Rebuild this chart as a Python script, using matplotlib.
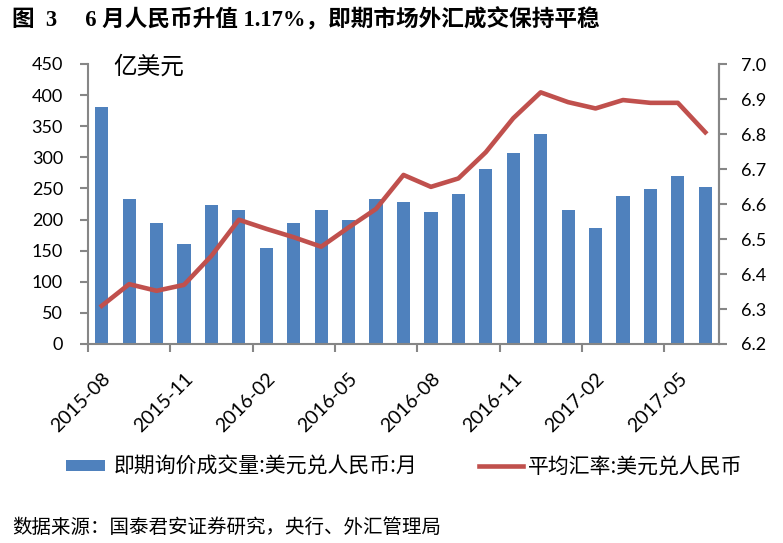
import numpy as np
import matplotlib
matplotlib.use("Agg")
import matplotlib.pyplot as plt
import matplotlib.transforms as mtransforms
from matplotlib.patches import Patch
from matplotlib.lines import Line2D

plt.rcParams['font.family'] = ['Lato', 'Noto Sans CJK SC', 'DejaVu Sans']

# Monthly data, 2015-08 .. 2017-06
months = ['2015-08', '2015-09', '2015-10', '2015-11', '2015-12', '2016-01',
          '2016-02', '2016-03', '2016-04', '2016-05', '2016-06', '2016-07',
          '2016-08', '2016-09', '2016-10', '2016-11', '2016-12', '2017-01',
          '2017-02', '2017-03', '2017-04', '2017-05', '2017-06']
volume = [381, 233, 195, 161, 224, 215, 154, 195, 215, 199, 233, 228,
          212, 241, 281, 307, 337, 215, 186, 238, 249, 270, 252]
avg_rate = [6.309, 6.371, 6.352, 6.369, 6.452, 6.555, 6.529, 6.505, 6.478,
            6.533, 6.586, 6.683, 6.649, 6.673, 6.748, 6.845, 6.919, 6.891,
            6.873, 6.897, 6.889, 6.889, 6.805]
tick_labels = ['2015-08', '2015-11', '2016-02', '2016-05', '2016-08',
               '2016-11', '2017-02', '2017-05']

bar_color = '#4F81BD'
line_color = '#C0504D'
axis_color = '#868686'

fig = plt.figure(figsize=(7.83, 5.43), dpi=100)
ax = fig.add_axes([88 / 783, 1 - 344 / 543, (719 - 88) / 783, (344 - 64) / 543])
ax2 = ax.twinx()

x = np.arange(len(months))
ax.bar(x, volume, width=0.48, color=bar_color, zorder=2)
ax2.plot(x, avg_rate, color=line_color, linewidth=3.3, solid_joinstyle='round', zorder=3)

ax.set_xlim(-0.5, len(months) - 0.5)
ax.set_ylim(0, 450)
ax.set_yticks(np.arange(0, 451, 50))
ax2.set_ylim(6.2, 7.0)
ax2.set_yticks(np.arange(6.2, 7.01, 0.1))
ax2.set_yticklabels([f'{v:.1f}' for v in np.arange(6.2, 7.01, 0.1)])

tick_pos = [months.index(m) - 0.5 for m in tick_labels]
ax.set_xticks(tick_pos)
ax.set_xticklabels([])

# rotated date labels, placed like the Excel original
offset = mtransforms.ScaledTranslation(20 / 100, -32 / 100, fig.dpi_scale_trans)
trans = mtransforms.blended_transform_factory(ax.transData, ax.transAxes) + offset
for p, lab in zip(tick_pos, tick_labels):
    ax.text(p, 0, lab, transform=trans, rotation=45, rotation_mode='anchor',
            ha='right', va='center', fontsize=14)

for a in (ax, ax2):
    a.spines['top'].set_visible(False)
    for s in ('left', 'right', 'bottom'):
        a.spines[s].set_color(axis_color)
        a.spines[s].set_linewidth(1.5)
    a.tick_params(colors=axis_color, labelcolor='black', labelsize=13, length=6, width=1.5)
ax.tick_params(axis='y', pad=12)
ax2.tick_params(axis='y', pad=10)
ax.tick_params(axis='x', length=6)
ax2.spines['left'].set_visible(False)
ax2.spines['bottom'].set_visible(False)

ax.text((113 - 88) / 631, 1 - (67 - 64) / 280, '亿美元', transform=ax.transAxes,
        fontsize=17, va='center', ha='left', family=['Noto Sans CJK SC'])

# title and source
fig.text(12 / 783, 1 - 20 / 543, '图  3     6 月人民币升值 1.17%，即期市场外汇成交保持平稳',
         fontsize=16.3, fontweight='bold', va='center', ha='left',
         family=['Liberation Serif', 'Noto Sans CJK SC'])
fig.text(12 / 783, 1 - 527 / 543, '数据来源：国泰君安证券研究，央行、外汇管理局',
         fontsize=14, va='center', ha='left', family=['Noto Sans CJK SC'])

leg_prop = {'family': ['Noto Sans CJK SC'], 'size': 15}
leg1 = fig.legend([Patch(facecolor=bar_color, edgecolor='none')],
                  ['即期询价成交量:美元兑人民币:月'],
                  loc='center left', bbox_to_anchor=(66 / 783, 1 - 467 / 543),
                  frameon=False, prop=leg_prop, handlelength=1.87, handleheight=0.38,
                  handletextpad=0.43, borderpad=0, borderaxespad=0)
leg2 = fig.legend([Line2D([0], [0], color=line_color, linewidth=3.3)],
                  ['平均汇率:美元兑人民币'],
                  loc='center left', bbox_to_anchor=(479 / 783, 1 - 467 / 543),
                  frameon=False, prop=leg_prop, handlelength=2.1,
                  handletextpad=0.25, borderpad=0, borderaxespad=0)

fig.savefig('out.png', dpi=100)
